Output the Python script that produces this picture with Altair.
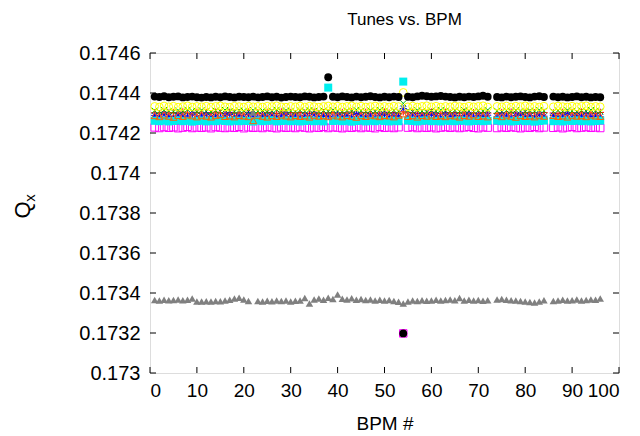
import altair as alt
import pandas as pd

bpm = list(range(1, 73)) + list(range(74, 85)) + list(range(86, 97))

q_red = [
    .174301, .174296, .174304, .174299, .174302, .174297, .174305, .174300, .174295, .174303,
    .174298, .174302, .174296, .174304, .174300, .174297, .174303, .174299, .174301, .174295,
    .174304, .174298, .174301, .174296, .174303, .174300, .174297, .174305, .174299, .174302,
    .174296, .174303, .174300, .174298, .174304, .174297, .174301, .174299, .174303, .174296,
    .174302, .174299, .174305, .174297, .174300, .174303, .174298, .174301, .174296, .174304,
    .174299, .174302, .174297, .174306, .174300, .174303, .174298, .174301, .174296, .174304,
    .174300, .174297, .174303, .174299, .174302, .174296, .174304, .174298, .174301, .174297, .174303, .174300,
    .174298, .174302, .174296, .174304, .174300, .174297, .174303, .174299, .174301, .174295, .174302,
    .174300, .174297, .174303, .174299, .174302, .174296, .174304, .174298, .174301, .174297, .174303,
]
q_green = [
    .174312, .174308, .174315, .174310, .174306, .174313, .174309, .174316, .174311, .174307,
    .174314, .174309, .174305, .174312, .174308, .174315, .174310, .174306, .174313, .174311,
    .174307, .174314, .174309, .174312, .174305, .174311, .174316, .174308, .174313, .174310,
    .174306, .174313, .174309, .174315, .174311, .174307, .174312, .174308, .174314, .174310,
    .174305, .174312, .174309, .174316, .174311, .174307, .174313, .174308, .174315, .174310,
    .174306, .174313, .174309, .174348, .174312, .174307, .174314, .174310, .174305, .174312,
    .174309, .174315, .174311, .174306, .174313, .174308, .174314, .174310, .174307, .174312, .174309, .174315,
    .174311, .174306, .174313, .174308, .174314, .174310, .174307, .174312, .174309, .174315, .174311,
    .174307, .174313, .174308, .174314, .174310, .174306, .174312, .174309, .174315, .174311, .174308,
]
q_blue = [
    .174288, .174279, .174292, .174283, .174276, .174290, .174285, .174281, .174294, .174278,
    .174286, .174291, .174280, .174284, .174277, .174289, .174293, .174282, .174287, .174279,
    .174291, .174284, .174276, .174288, .174283, .174290, .174279, .174286, .174292, .174281,
    .174285, .174278, .174289, .174283, .174291, .174280, .174287, .174284, .174276, .174290,
    .174282, .174288, .174279, .174293, .174285, .174281, .174289, .174277, .174286, .174292,
    .174280, .174287, .174283, .174322, .174278, .174290, .174284, .174288, .174281, .174293,
    .174286, .174279, .174291, .174283, .174288, .174277, .174285, .174292, .174280, .174287, .174283, .174289,
    .174281, .174290, .174284, .174278, .174287, .174292, .174282, .174286, .174279, .174291, .174284,
    .174288, .174280, .174285, .174293, .174279, .174287, .174283, .174290, .174282, .174286, .174281,
]
q_magenta = [
    .174228, .174225, .174230, .174226, .174229, .174224, .174227, .174231, .174225, .174228,
    .174226, .174229, .174224, .174230, .174227, .174225, .174228, .174226, .174231, .174224,
    .174229, .174226, .174228, .174225, .174230, .174227, .174224, .174229, .174226, .174228,
    .174225, .174230, .174227, .174224, .174228, .174226, .174231, .174225, .174229, .174227,
    .174224, .174228, .174226, .174230, .174225, .174229, .174227, .174224, .174231, .174226,
    .174228, .174225, .174229, .173198, .174227, .174230, .174225, .174228, .174226, .174229,
    .174224, .174227, .174230, .174226, .174229, .174225, .174228, .174231, .174226, .174224, .174229, .174227,
    .174225, .174229, .174226, .174230, .174227, .174224, .174228, .174226, .174231, .174225, .174228,
    .174226, .174229, .174224, .174228, .174231, .174225, .174227, .174230, .174226, .174228, .174225,
]
q_cyan = [
    .174261, .174259, .174262, .174258, .174260, .174263, .174259, .174261, .174257, .174260,
    .174262, .174258, .174261, .174259, .174263, .174260, .174258, .174262, .174259, .174261,
    .174260, .174257, .174262, .174259, .174261, .174263, .174258, .174260, .174262, .174259,
    .174261, .174258, .174260, .174263, .174259, .174261, .174258, .174427, .174260, .174262,
    .174259, .174261, .174257, .174260, .174262, .174258, .174261, .174259, .174263, .174260,
    .174258, .174261, .174259, .174457, .174262, .174260, .174258, .174261, .174263, .174259,
    .174261, .174258, .174262, .174260, .174259, .174263, .174261, .174258, .174260, .174262, .174259, .174261,
    .174262, .174259, .174261, .174258, .174260, .174263, .174259, .174261, .174257, .174260, .174262,
    .174259, .174261, .174258, .174262, .174260, .174263, .174259, .174261, .174258, .174260, .174262,
]
q_yellow = [
    .174333, .174330, .174335, .174331, .174334, .174329, .174332, .174336, .174330, .174333,
    .174331, .174334, .174330, .174333, .174336, .174331, .174329, .174334, .174332, .174330,
    .174335, .174331, .174333, .174330, .174334, .174332, .174336, .174331, .174329, .174333,
    .174331, .174335, .174330, .174334, .174332, .174329, .174333, .174335, .174331, .174334,
    .174330, .174333, .174336, .174331, .174334, .174330, .174332, .174335, .174331, .174333,
    .174330, .174334, .174332, .174403, .174331, .174335, .174330, .174333, .174336, .174331,
    .174334, .174330, .174333, .174331, .174335, .174332, .174329, .174334, .174331, .174333, .174336, .174330,
    .174333, .174331, .174335, .174330, .174334, .174332, .174336, .174331, .174333, .174330, .174334,
    .174331, .174335, .174332, .174330, .174334, .174331, .174333, .174336, .174330, .174333, .174331,
]
q_black = [
    .174382, .174380, .174384, .174379, .174381, .174383, .174378, .174380, .174382, .174379,
    .174377, .174380, .174378, .174381, .174379, .174383, .174380, .174378, .174381, .174380,
    .174379, .174382, .174378, .174380, .174383, .174379, .174381, .174377, .174380, .174382,
    .174380, .174379, .174383, .174381, .174378, .174380, .174382, .174479, .174381, .174379,
    .174383, .174380, .174378, .174382, .174379, .174381, .174384, .174380, .174378, .174381,
    .174379, .174382, .174380, .173198, .174381, .174379, .174383, .174386, .174384, .174381,
    .174383, .174385, .174382, .174380, .174378, .174381, .174379, .174382, .174380, .174383, .174386, .174381,
    .174380, .174378, .174382, .174379, .174381, .174383, .174380, .174378, .174382, .174384, .174380,
    .174382, .174379, .174381, .174378, .174380, .174383, .174379, .174381, .174378, .174380, .174379,
]
q_orange = [
    .174287, .174282, .174290, .174284, .174279, .174288, .174283, .174291, .174286, .174281,
    .174289, .174284, .174280, .174287, .174292, .174283, .174286, .174281, .174288, .174285,
    .174282, .174262, .174289, .174284, .174280, .174287, .174283, .174290, .174285, .174281,
    .174288, .174283, .174286, .174280, .174289, .174284, .174287, .174282, .174290, .174285,
    .174281, .174288, .174284, .174279, .174287, .174283, .174290, .174286, .174282, .174288,
    .174285, .174281, .174289, .174296, .174283, .174287, .174280, .174288, .174284, .174290,
    .174283, .174287, .174282, .174289, .174285, .174280, .174288, .174284, .174291, .174283, .174286, .174281,
    .174287, .174282, .174290, .174284, .174279, .174288, .174283, .174286, .174281, .174289, .174284,
    .174288, .174283, .174286, .174280, .174289, .174284, .174287, .174282, .174290, .174285, .174283,
]
q_gray = [
    .173365, .173363, .173366, .173364, .173365, .173367, .173364, .173366, .173372, .173358,
    .173357, .173359, .173358, .173360, .173359, .173362, .173366, .173372, .173376, .173368,
    .173360, .174303, .173360, .173358, .173361, .173359, .173362, .173360, .173363, .173358,
    .173361, .173362, .173375, .173348, .173368, .173372, .173366, .173376, .173370, .173392,
    .173371, .173368, .173374, .173366, .173370, .173365, .173368, .173363, .173366, .173362,
    .173365, .173360, .173356, .173347, .173358, .173362, .173360, .173364, .173361, .173363,
    .173366, .173362, .173365, .173368, .173364, .173375, .173362, .173366, .173363, .173365, .173361, .173364,
    .173368, .173370, .173366, .173364, .173362, .173360, .173358, .173355, .173352, .173358, .173364,
    .173360, .173363, .173366, .173362, .173364, .173367, .173363, .173365, .173368, .173366, .173372,
]

y_ticks = [0.173, 0.1732, 0.1734, 0.1736, 0.1738, 0.174, 0.1742, 0.1744, 0.1746]
x_ticks = [0, 10, 20, 30, 40, 50, 60, 70, 80, 90, 100]
title_text = "Tunes vs. BPM"
x_title = "BPM #"
y_title_main = "Q"
y_title_sub = "x"

series = [
    ("red", q_red, "M-1,0L1,0M0,-1L0,1", "#ff0000", False, 56),
    ("green", q_green, "M-1,-1L1,1M-1,1L1,-1", "#00c000", False, 36),
    ("blue", q_blue, "M-1,0L1,0M0,-1L0,1M-0.7,-0.7L0.7,0.7M-0.7,0.7L0.7,-0.7", "#0000ff", False, 50),
    ("magenta", q_magenta, "square", "#ff00ff", False, 56),
    ("cyan", q_cyan, "square", "#00eeee", True, 64),
    ("yellow", q_yellow, "circle", "#ffff00", False, 60),
    ("black", q_black, "circle", "#000000", True, 62),
    ("orange", q_orange, "triangle-up", "#ff6000", False, 50),
    ("gray", q_gray, "triangle-up", "#808080", True, 56),
]

W, H = 469, 320
xs = alt.Scale(domain=[0, 100], nice=False, zero=False)
ys = alt.Scale(domain=[0.173, 0.1746], nice=False, zero=False)

x_axis = alt.Axis(values=x_ticks, ticks=False, domain=False, grid=False,
                  labelFontSize=19, labelPadding=8, labelOverlap=False,
                  titleFontSize=19, titleFontWeight="normal", titlePadding=14,
                  labelColor="#000", titleColor="#000",
                  labelFont="Liberation Sans", titleFont="Liberation Sans")
y_axis = alt.Axis(values=y_ticks, format=".4~g", ticks=False, domain=False,
                  grid=False, labelFontSize=20, labelPadding=10,
                  labelOverlap=False, labelBound=False, labelFlush=False,
                  labelColor="#000", labelFont="Liberation Sans")

layers = []
for i, (name, vals, shape, color, filled, size) in enumerate(series):
    assert len(vals) == len(bpm), name
    df = pd.DataFrame({"bpm": bpm, "qx": vals})
    xenc = alt.X("bpm:Q", scale=xs, title=x_title, axis=x_axis)
    yenc = alt.Y("qx:Q", scale=ys, title=None, axis=y_axis)
    m = alt.Chart(df).mark_point(shape=shape, filled=filled, size=size, opacity=1,
                                  strokeWidth=1, color=color).encode(x=xenc, y=yenc)
    layers.append(m)

ytdf = pd.DataFrame({"qx": y_ticks})
xtdf = pd.DataFrame({"bpm": x_ticks})
tick_len = 6
yenc_t = alt.Y("qx:Q", scale=ys, title=None, axis=y_axis)
xenc_t = alt.X("bpm:Q", scale=xs, title=x_title, axis=x_axis)
yl = alt.Chart(ytdf).mark_rule(color="#000", strokeWidth=1).encode(
    y=yenc_t, x=alt.value(0), x2=alt.value(tick_len))
yr = alt.Chart(ytdf).mark_rule(color="#000", strokeWidth=1).encode(
    y=yenc_t, x=alt.value(W - tick_len), x2=alt.value(W))
xb = alt.Chart(xtdf).mark_rule(color="#000", strokeWidth=1).encode(
    x=xenc_t, y=alt.value(H), y2=alt.value(H - tick_len))
xt = alt.Chart(xtdf).mark_rule(color="#000", strokeWidth=1).encode(
    x=xenc_t, y=alt.value(0), y2=alt.value(tick_len))

qdf = pd.DataFrame({"t": [y_title_main]})
xdf = pd.DataFrame({"t": [y_title_sub]})
q_label = alt.Chart(qdf).mark_text(angle=270, fontSize=22, font="Liberation Sans",
                                   color="#000", align="center", baseline="middle").encode(
    text="t:N", x=alt.value(-127), y=alt.value(157))
x_label = alt.Chart(xdf).mark_text(angle=270, fontSize=15, font="Liberation Sans",
                                   color="#000", align="center", baseline="middle").encode(
    text="t:N", x=alt.value(-120), y=alt.value(145))

chart = alt.layer(*layers, yl, yr, xb, xt, q_label, x_label).properties(
    width=W, height=H,
    title=alt.TitleParams(title_text, fontSize=17, fontWeight="normal",
                          font="Liberation Sans", color="#000", offset=14, anchor="middle",
                          dx=20),
    autosize=alt.AutoSizeParams(type="none"),
    padding={"left": 142, "top": 45, "right": 13, "bottom": 63},
).configure_view(stroke="#000", strokeWidth=1).configure(background="white")

chart.save("out.html", embed_options={"renderer": "svg", "actions": False})
